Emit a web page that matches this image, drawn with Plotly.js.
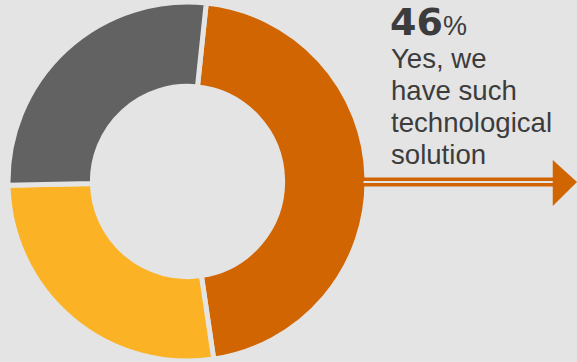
<!DOCTYPE html>
<html><head><meta charset="utf-8">
<script src="https://cdn.plot.ly/plotly-3.0.1.min.js"></script>
<style>html,body{margin:0;padding:0;background:#e4e4e4;}</style>
</head><body><div id="chart" style="width:577px;height:362px;"></div>
<script>
const labels = ["Yes, we have such technological solution", "Option B", "Option C"];
const values = [46, 27, 27];
const colors = ["#d06502", "#fbb225", "#626262"];
const headline = "46";
const caption = ["Yes, we", "have such", "technological", "solution"];
const bg = "#e4e4e4";

const data = [{
  type: "pie",
  labels: labels,
  values: values,
  hole: 0.53,
  sort: false,
  direction: "clockwise",
  rotation: 6,
  textinfo: "none",
  hoverinfo: "label+percent",
  marker: {colors: colors, line: {color: bg, width: 5}},
  domain: {x: [0.0139, 0.636], y: [0.0028, 0.9945]},
  showlegend: false
}];

const textColor = "#3c3c3c";
const H = 362;
const annotations = [
  {xref: "paper", yref: "paper", x: 0.672, y: (H - 22) / H, xanchor: "left", yanchor: "middle",
   showarrow: false, align: "left",
   text: "<b>" + headline + "</b><span style='font-family:Liberation Sans;font-size:27px'>%</span>",
   font: {family: "DejaVu Sans", size: 38, color: textColor}}
];
const centers = [59, 91, 123, 154];
caption.forEach((line, i) => {
  annotations.push({xref: "paper", yref: "paper", x: 0.674, y: (H - centers[i]) / H,
    xanchor: "left", yanchor: "middle", showarrow: false, align: "left",
    text: line, font: {family: "Liberation Sans, Arial, sans-serif", size: 27.6, color: textColor}});
});

const layout = {
  width: 577, height: 362,
  margin: {l: 0, r: 0, t: 0, b: 0},
  paper_bgcolor: bg, plot_bgcolor: bg,
  font: {family: "Liberation Sans, Arial, sans-serif", color: textColor},
  annotations: annotations,
  shapes: [
    {type: "line", xref: "paper", yref: "paper", x0: 0.625, x1: 0.962, y0: 0.497, y1: 0.497,
     line: {color: "#d06502", width: 9}},
    {type: "line", xref: "paper", yref: "paper", x0: 0.630, x1: 0.962, y0: 0.497, y1: 0.497,
     line: {color: bg, width: 2}},
    {type: "path", xref: "paper", yref: "paper",
     path: "M 0.958 0.558 L 1.0 0.497 L 0.958 0.431 Z",
     fillcolor: "#d06502", line: {width: 0}}
  ]
};

Plotly.newPlot("chart", data, layout, {displayModeBar: false, staticPlot: true});
</script>
</body></html>
